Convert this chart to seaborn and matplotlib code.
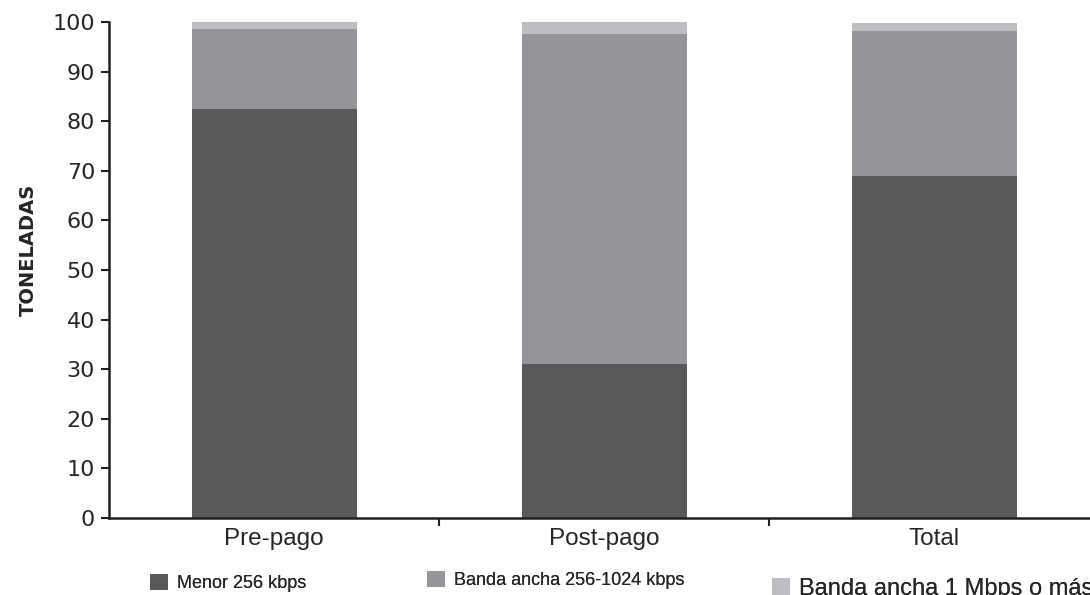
import numpy as np
import pandas as pd
import matplotlib
matplotlib.use("Agg")
import matplotlib.pyplot as plt
from matplotlib.patches import Patch
import seaborn as sns

categories = ["Pre-pago", "Post-pago", "Total"]
menor_256 = [82.4, 31.0, 68.9]
banda_256_1024 = [16.1, 66.6, 29.2]
banda_1mbps = [1.7, 2.3, 1.7]
series_names = ["Menor 256 kbps", "Banda ancha 256-1024 kbps", "Banda ancha 1 Mbps o más"]
y_ticks = [0, 10, 20, 30, 40, 50, 60, 70, 80, 90, 100]

colors = ["#58595b", "#949598", "#bdbec1"]

sns.set_style("ticks")
plt.rcParams["font.family"] = ["Liberation Sans", "DejaVu Sans"]

fig = plt.figure(figsize=(10.9, 5.95), dpi=100)
W, H = 1090, 595
left, right, top, bottom = 109, 1099, 22, 518
ax = fig.add_axes([left / W, 1 - bottom / H, (right - left) / W, (bottom - top) / H])

layers = [menor_256, banda_256_1024, banda_1mbps]
cum = np.cumsum(np.array(layers), axis=0)
# draw from top layer down so lower layers overlay
for i in range(len(layers) - 1, -1, -1):
    df = pd.DataFrame({"cat": categories, "val": cum[i]})
    sns.barplot(data=df, x="cat", y="val", color=colors[i], width=0.5,
                saturation=1, edgecolor="none", linewidth=0, ax=ax)

ax.set_ylim(0, 100)
ax.set_xlim(-0.5, 2.5)
ax.set_yticks(y_ticks)
ax.set_yticklabels([str(t) for t in y_ticks], fontsize=16, family="DejaVu Sans")
ax.set_xticks([0, 1, 2])
ax.set_xticklabels(categories, fontsize=17.5)
ax.set_xticks([0.5, 1.5], minor=True)
ax.tick_params(axis="x", which="major", length=0, pad=7)
ax.tick_params(axis="x", which="minor", length=6, width=1.5, direction="out", color="#231f20")
ax.tick_params(axis="y", length=6, width=1.5, direction="out", pad=4, color="#231f20")
ax.set_xlabel("")
ax.set_ylabel("TONELADAS", fontsize=14, fontweight="bold", family="DejaVu Sans")
ax.yaxis.set_label_coords(-0.072, 0.54)
for s in ["top", "right"]:
    ax.spines[s].set_visible(False)
for s in ["left", "bottom"]:
    ax.spines[s].set_linewidth(1.8)
    ax.spines[s].set_color("#231f20")

leg_pos = [(150, 583), (427, 580), (772, 589)]
leg_sizes = [13, 13, 17]
for name, col, (lx, ly), fs in zip(series_names, colors, leg_pos, leg_sizes):
    lg = fig.legend(handles=[Patch(facecolor=col, edgecolor="none", label=name)],
                    loc="center left", bbox_to_anchor=(lx / W, 1 - ly / H),
                    frameon=False, borderpad=0, borderaxespad=0,
                    handlelength=1.0 * 13 / fs, handleheight=1.0 * 13 / fs,
                    handletextpad=0.5 * 13 / fs, fontsize=fs)
    fig.add_artist(lg)

fig.savefig("out.png", dpi=100)
